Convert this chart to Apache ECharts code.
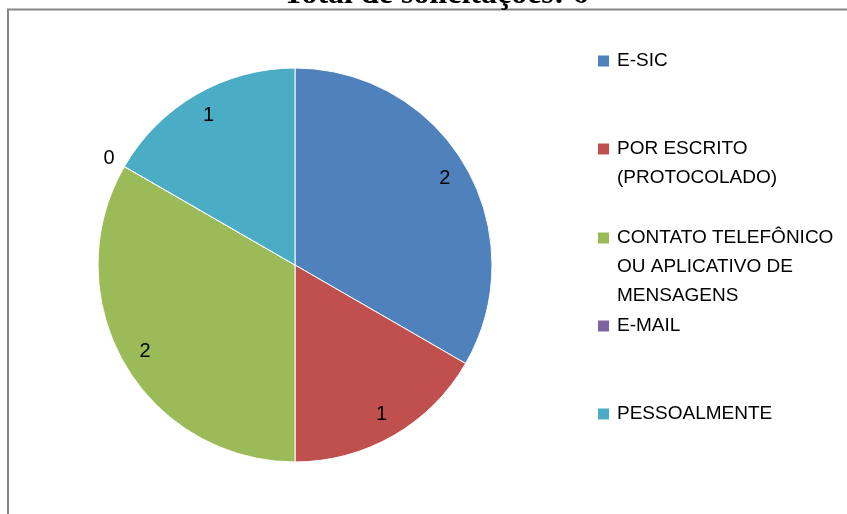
<!DOCTYPE html>
<html lang="pt">

<head>
    <meta charset="UTF-8">
    <title>Total de solicitações</title>
    <script src="https://cdn.jsdelivr.net/npm/echarts@6/dist/echarts.min.js"></script>
    <style>
        html, body { margin: 0; padding: 0; background: #fff; }
    </style>
</head>

<body>
    <div id="main" style="width: 847px;height:514px;"></div>
</body>
<script>
    // dados
    let categorias = ['E-SIC', 'POR ESCRITO (PROTOCOLADO)', 'CONTATO TELEFÔNICO OU APLICATIVO DE MENSAGENS', 'E-MAIL', 'PESSOALMENTE'];
    let valores = [2, 1, 2, 0, 1];
    let cores = ['#4F81BD', '#C0504D', '#9BBB59', '#8064A2', '#4BACC6'];
    let legendaTextos = ['E-SIC', 'POR ESCRITO\n(PROTOCOLADO)', 'CONTATO TELEFÔNICO\nOU APLICATIVO DE\nMENSAGENS', 'E-MAIL', 'PESSOALMENTE'];
    let legendaLinha1 = [59, 147, 236, 324, 412]; // centro da 1a linha de cada item
    let titulo = 'Total de solicitações: 6';

    let myChart = echarts.init(document.getElementById('main'));

    let fonte = 'Liberation Sans, Arial, sans-serif';
    let linha = 29;

    let pieData = categorias.map(function(nome, i) {
        return {
            name: nome,
            value: valores[i],
            itemStyle: { color: cores[i] }
        };
    });

    // serie transparente só para posicionar os rótulos mais perto da borda
    let labelData = categorias.map(function(nome, i) {
        let item = { name: nome, value: valores[i] };
        if (valores[i] === 0) {
            item.label = { position: 'outside' };
            item.labelLine = { show: false, length: 17, length2: -10 };
        }
        return item;
    });

    // o ícone fica no meio do bloco de texto, então põe linhas vazias em cima
    // para que ele caia na altura da primeira linha
    let legendConfig = categorias.map(function(nome, i) {
        let n = legendaTextos[i].split('\n').length;
        let texto = '\n'.repeat(n - 1) + legendaTextos[i];
        return {
            left: 598,
            top: legendaLinha1[i] - linha / 2 * (2 * n - 1) + 2,
            orient: 'vertical',
            padding: 0,
            itemWidth: 11,
            itemHeight: 11,
            icon: 'rect',
            itemStyle: { borderWidth: 0 },
            selectedMode: false,
            data: [nome],
            formatter: function() {
                return texto;
            },
            textStyle: {
                fontFamily: fonte,
                fontSize: 19,
                color: '#000',
                lineHeight: linha,
                padding: [0, 0, 0, 3]
            }
        };
    });

    myChart.setOption({
        animation: false,
        title: {
            text: titulo,
            left: 283,
            top: -21,
            padding: 0,
            textStyle: {
                fontFamily: 'Liberation Serif, Times New Roman, serif',
                fontWeight: 'bold',
                fontSize: 32,
                color: '#000'
            }
        },
        legend: legendConfig,
        graphic: [{
            type: 'rect',
            z: -10,
            silent: true,
            shape: { x: 8, y: 9.5, width: 900, height: 600 },
            style: { fill: 'none', stroke: '#868686', lineWidth: 2 }
        }],
        series: [{
            name: 'solicitacoes',
            type: 'pie',
            center: [295, 265],
            radius: [0, 197],
            startAngle: 90,
            clockwise: true,
            data: pieData,
            label: { show: false },
            labelLine: { show: false },
            itemStyle: { borderColor: '#fff', borderWidth: 1 },
            emphasis: { disabled: true }
        }, {
            name: 'rotulos',
            type: 'pie',
            center: [295, 265],
            radius: [143, 197],
            startAngle: 90,
            clockwise: true,
            silent: true,
            avoidLabelOverlap: false,
            minShowLabelAngle: 0,
            data: labelData,
            itemStyle: { color: 'rgba(0,0,0,0)', borderWidth: 0 },
            label: {
                show: true,
                position: 'inside',
                formatter: '{c}',
                color: '#000',
                fontFamily: fonte,
                fontSize: 20
            },
            labelLine: { show: false },
            emphasis: { disabled: true }
        }]
    });
</script>

</html>
